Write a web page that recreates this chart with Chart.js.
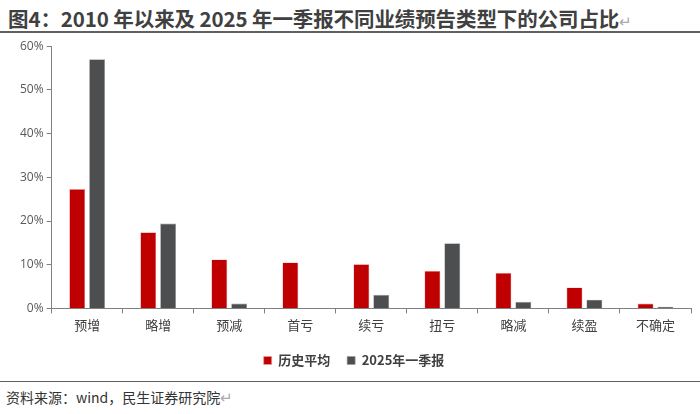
<!DOCTYPE html>
<html>
<head>
<meta charset="utf-8">
<script src="https://cdn.jsdelivr.net/npm/chart.js@4/dist/chart.umd.min.js"></script>
<style>
  html, body { margin: 0; padding: 0; background: #fff; }
  body { width: 700px; height: 414px; position: relative; overflow: hidden;
         font-family: "Noto Sans CJK SC", "Noto Sans", sans-serif; }
  #title { position: absolute; left: 8px; top: 3px; font-size: 20.5px; font-weight: bold;
           color: #404040; white-space: nowrap; letter-spacing: -0.1px; }
  #title .mark, #source .mark { color: #aaa; font-weight: normal; font-size: 15px; }
  #topline { position: absolute; left: 0; top: 31px; width: 700px; height: 2px; background: #606060; }
  #wrap { position: absolute; left: 0; top: 36px; width: 700px; height: 344px; }
  #botline { position: absolute; left: 0; top: 381px; width: 700px; height: 1px; background: #606060; }
  #source { position: absolute; left: 6px; top: 386px; font-size: 14px; color: #333; white-space: nowrap; }
</style>
</head>
<body>
<div id="title">图4：2010 年以来及 2025 年一季报不同业绩预告类型下的公司占比<span class="mark">↵</span></div>
<div id="topline"></div>
<div id="wrap"><canvas id="chart"></canvas></div>
<div id="botline"></div>
<div id="source">资料来源：wind，民生证券研究院<span class="mark">↵</span></div>
<script>
document.addEventListener('DOMContentLoaded', () => {
    const categories = ['预增', '略增', '预减', '首亏', '续亏', '扭亏', '略减', '续盈', '不确定'];
    const historyAvg = [27.3, 17.4, 11.2, 10.5, 10.1, 8.6, 8.1, 4.8, 1.1];
    const q1of2025 = [57.0, 19.4, 1.1, 0, 3.1, 14.9, 1.5, 2.0, 0.4];
    const yTicks = [0, 10, 20, 30, 40, 50, 60];

    const ctx = document.getElementById('chart').getContext('2d');

    new Chart(ctx, {
        type: 'bar',
        data: {
            labels: categories,
            datasets: [
                {
                    label: '历史平均',
                    data: historyAvg,
                    backgroundColor: '#C00000',
                    borderColor: '#E8A0A0',
                    borderWidth: 0.6
                },
                {
                    label: '2025年一季报',
                    data: q1of2025,
                    backgroundColor: '#4D4E50',
                    borderColor: '#9A9A9A',
                    borderWidth: 0.6
                }
            ]
        },
        options: {
            responsive: true,
            maintainAspectRatio: false,
            animation: false,
            datasets: {
                bar: { categoryPercentage: 0.56, barPercentage: 0.8 }
            },
            layout: { padding: { left: 17, right: 9, top: 8, bottom: 3 } },
            scales: {
                y: {
                    min: 0,
                    max: 60,
                    afterBuildTicks: axis => {
                        axis.ticks = yTicks.map(v => ({ value: v }));
                    },
                    border: { display: true, color: '#808080', width: 1 },
                    grid: {
                        drawOnChartArea: false,
                        drawTicks: true,
                        tickLength: 5,
                        color: '#808080'
                    },
                    ticks: {
                        callback: v => v + '%',
                        color: '#595959',
                        padding: 3,
                        font: { size: 12, family: '"Open Sans", "Noto Sans", sans-serif' }
                    }
                },
                x: {
                    border: { display: true, color: '#808080', width: 1 },
                    grid: {
                        offset: true,
                        drawOnChartArea: false,
                        drawTicks: true,
                        tickLength: 5,
                        color: '#808080'
                    },
                    ticks: {
                        color: '#404040',
                        padding: 4,
                        font: { size: 13, family: '"Noto Sans CJK SC", sans-serif' }
                    }
                }
            },
            plugins: {
                legend: {
                    position: 'bottom',
                    labels: {
                        boxWidth: 8,
                        boxHeight: 8,
                        padding: 17,
                        color: '#404040',
                        font: { size: 13, weight: 'bold', family: '"Noto Sans CJK SC", sans-serif' }
                    }
                },
                tooltip: { enabled: false }
            }
        }
    });
});
</script>
</body>
</html>
